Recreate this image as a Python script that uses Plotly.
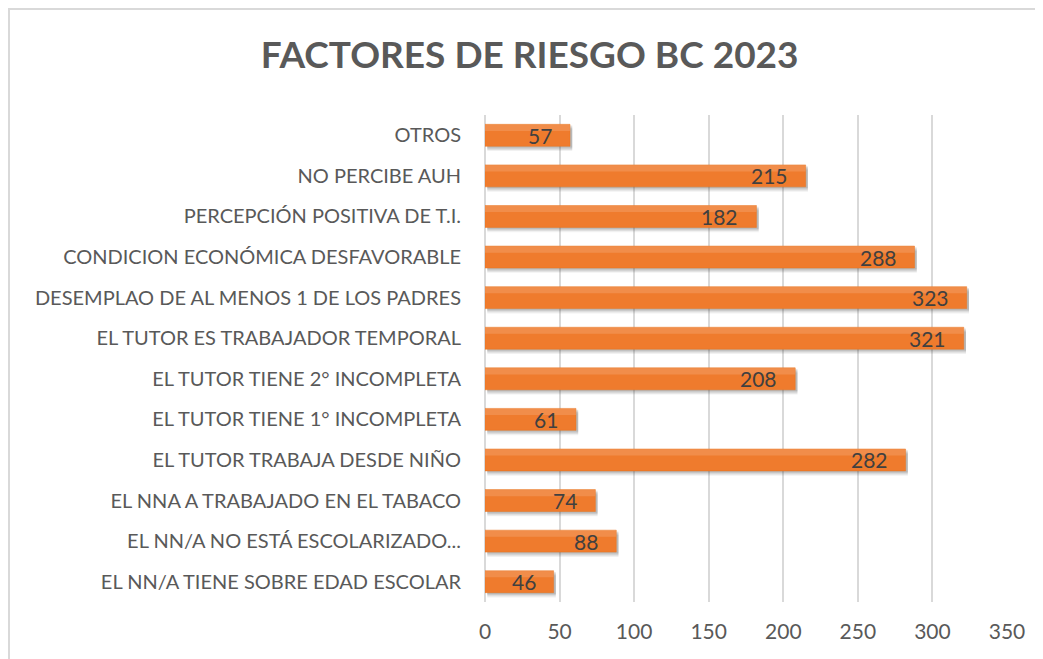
import plotly.graph_objects as go

categories = [
    "EL NN/A TIENE SOBRE EDAD ESCOLAR",
    "EL NN/A NO ESTÁ ESCOLARIZADO...",
    "EL NNA A TRABAJADO EN EL TABACO",
    "EL TUTOR TRABAJA DESDE NIÑO",
    "EL TUTOR TIENE 1° INCOMPLETA",
    "EL TUTOR TIENE 2° INCOMPLETA",
    "EL TUTOR ES TRABAJADOR TEMPORAL",
    "DESEMPLAO DE AL MENOS 1 DE LOS PADRES",
    "CONDICION ECONÓMICA DESFAVORABLE",
    "PERCEPCIÓN POSITIVA DE T.I.",
    "NO PERCIBE AUH",
    "OTROS",
]
values = [46, 88, 74, 282, 61, 208, 321, 323, 288, 182, 215, 57]
tick_vals = [0, 50, 100, 150, 200, 250, 300, 350]

W, H = 1035, 651
ml, mr, mt, mb = 477, 36, 107, 57
pw, ph = W - ml - mr, H - mt - mb
BW = 0.54

fig = go.Figure()
# soft shadow layers
for off, alpha in [(-0.12, 0.07), (-0.09, 0.10), (-0.06, 0.12), (-0.03, 0.12)]:
    fig.add_trace(go.Bar(
        y=categories, x=values, orientation="h", base=1.5,
        marker=dict(color=f"rgba(60,60,60,{alpha})", line=dict(width=0)),
        width=BW, offset=-BW / 2 + off, hoverinfo="skip",
    ))
# main bars
fig.add_trace(go.Bar(
    y=categories, x=values, orientation="h",
    marker=dict(color="#EF7B2D", line=dict(color="#E8741F", width=0.5)),
    width=BW, offset=-BW / 2, hoverinfo="skip",
))
# lighter top strip (gradient feel)
fig.add_trace(go.Bar(
    y=categories, x=values, orientation="h",
    marker=dict(color="rgba(255,255,255,0.14)", line=dict(width=0)),
    width=BW * 0.3, offset=BW / 2 - BW * 0.3, hoverinfo="skip",
))

for c, v in zip(categories, values):
    fig.add_annotation(x=v, y=c, text=str(v), showarrow=False,
                       xanchor="right", yanchor="middle", xshift=-16, yshift=0,
                       font=dict(family="Lato", size=21, color="#404040"))

# chart border (top & left)
fig.add_shape(type="line", xref="paper", yref="paper",
              x0=-ml / pw, x1=(W - ml) / pw, y0=1 + (mt - 1) / ph, y1=1 + (mt - 1) / ph,
              line=dict(color="#D9D9D9", width=2))
fig.add_shape(type="line", xref="paper", yref="paper",
              x0=(1 - ml) / pw, x1=(1 - ml) / pw, y0=-mb / ph, y1=1 + mt / ph,
              line=dict(color="#D9D9D9", width=2))

fig.update_layout(
    width=W, height=H,
    margin=dict(l=ml, r=mr, t=mt, b=mb),
    paper_bgcolor="white", plot_bgcolor="white",
    title=dict(text="<b>FACTORES DE RIESGO BC 2023</b>", x=0.504, xanchor="center",
               y=1 - 47 / H, yanchor="middle",
               font=dict(family="Lato", size=37, color="#595959")),
    showlegend=False,
    barmode="overlay",
)
fig.update_xaxes(range=[0, 350], tickvals=tick_vals, showgrid=True,
                 gridcolor="#D9D9D9", gridwidth=2, zeroline=True,
                 zerolinecolor="#D9D9D9", zerolinewidth=2,
                 tickfont=dict(family="Lato", size=21, color="#595959"),
                 ticks="", ticklabelstandoff=15, showline=False)
fig.update_yaxes(range=[-0.5, 11.5], showgrid=False, ticks="",
                 tickfont=dict(family="Lato", size=20, color="#595959"),
                 ticklabelstandoff=23, showline=False)

fig.write_html("out.html")
